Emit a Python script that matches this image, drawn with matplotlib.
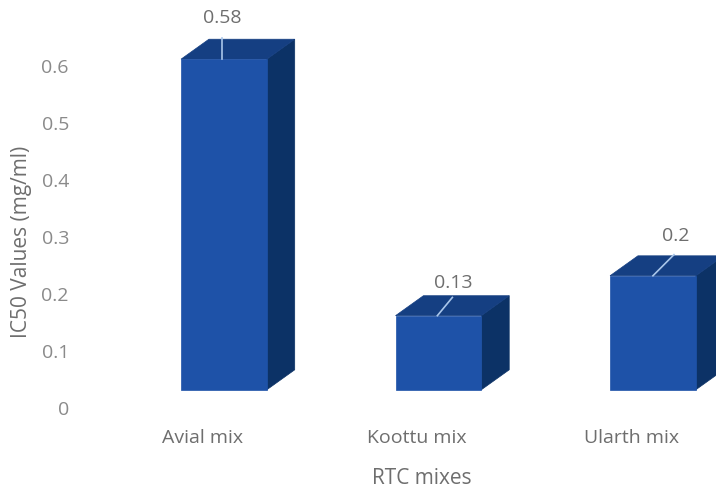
import matplotlib
matplotlib.use("Agg")
import matplotlib.pyplot as plt
from matplotlib.patches import Polygon

plt.rcParams['font.family'] = ['Open Sans', 'DejaVu Sans']

# Data
categories = ["Avial mix", "Koottu mix", "Ularth mix"]
ic50_values = [0.58, 0.13, 0.2]
value_labels = ["0.58", "0.13", "0.2"]
y_ticks = [0, 0.1, 0.2, 0.3, 0.4, 0.5, 0.6]
y_tick_labels = ["0", "0.1", "0.2", "0.3", "0.4", "0.5", "0.6"]

# 3D column geometry (data units)
base = 0.032        # floor offset of the front face
half_w = 0.20       # half width of front face
depth_x = 0.13      # horizontal depth shift
depth_y = 0.035     # vertical depth shift

front_col = "#1e52a8"
top_col = "#153f82"
side_col = "#0c3266"
tick_col = "#8a8a8a"
text_col = "#6e6e6e"

# per-bar leader-line end and label offsets (x, y)
leader_start = [(-0.01, 0.0), (-0.005, 0.0), (0.0, 0.0)]
leader_end = [(-0.01, 0.037), (0.065, 0.032), (0.098, 0.037)]
label_pos = [(-0.01, 0.072), (0.07, 0.058), (0.107, 0.07)]

fig = plt.figure(figsize=(7.16, 4.90), dpi=100)
ax = fig.add_axes([80 / 716, 82 / 490, 636 / 716, 399 / 490])
ax.set_xlim(-0.671, 2.294)
ax.set_ylim(0, 0.7)

for i, v in enumerate(ic50_values):
    x0, x1 = i - half_w, i + half_w
    top = base + v
    # side face
    ax.add_patch(Polygon([(x1, base), (x1 + depth_x, base + depth_y),
                          (x1 + depth_x, top + depth_y), (x1, top)],
                         closed=True, facecolor=side_col, edgecolor=side_col,
                         lw=0.5))
    # top face
    ax.add_patch(Polygon([(x0, top), (x1, top), (x1 + depth_x, top + depth_y),
                          (x0 + depth_x, top + depth_y)],
                         closed=True, facecolor=top_col, edgecolor=top_col,
                         lw=0.5))
    # front face
    ax.bar(i, v, bottom=base, width=2 * half_w, color=front_col,
           edgecolor=front_col, lw=0.5)
    # leader line and value label
    sx, sy = leader_start[i]
    ex, ey = leader_end[i]
    ax.plot([i + sx, i + ex], [top + sy, top + ey], color="#a9c6ea", lw=1.2)
    lx, ly = label_pos[i]
    ax.text(i + lx, top + ly, value_labels[i], ha="center", va="center",
            fontsize=14, color=text_col)

for spine in ax.spines.values():
    spine.set_visible(False)
ax.set_yticks(y_ticks)
ax.set_yticklabels(y_tick_labels)
ax.set_xticks([])
ax.tick_params(axis="y", length=0, labelsize=14, labelcolor=tick_col, pad=8)

# category labels sit slightly left of each column
for i, name in enumerate(categories):
    ax.text(i - 0.1, -0.053, name, ha="center", va="center", fontsize=14,
            color=text_col, clip_on=False)

fig.text(422 / 716, 1 - 478 / 490, "RTC mixes", ha="center", va="center",
         fontsize=15, color=text_col)
fig.text(22 / 716, 1 - 242 / 490, "IC50 Values (mg/ml)", ha="center",
         va="center", rotation=90, fontsize=15, color=text_col)

fig.savefig("out.png", dpi=100)
